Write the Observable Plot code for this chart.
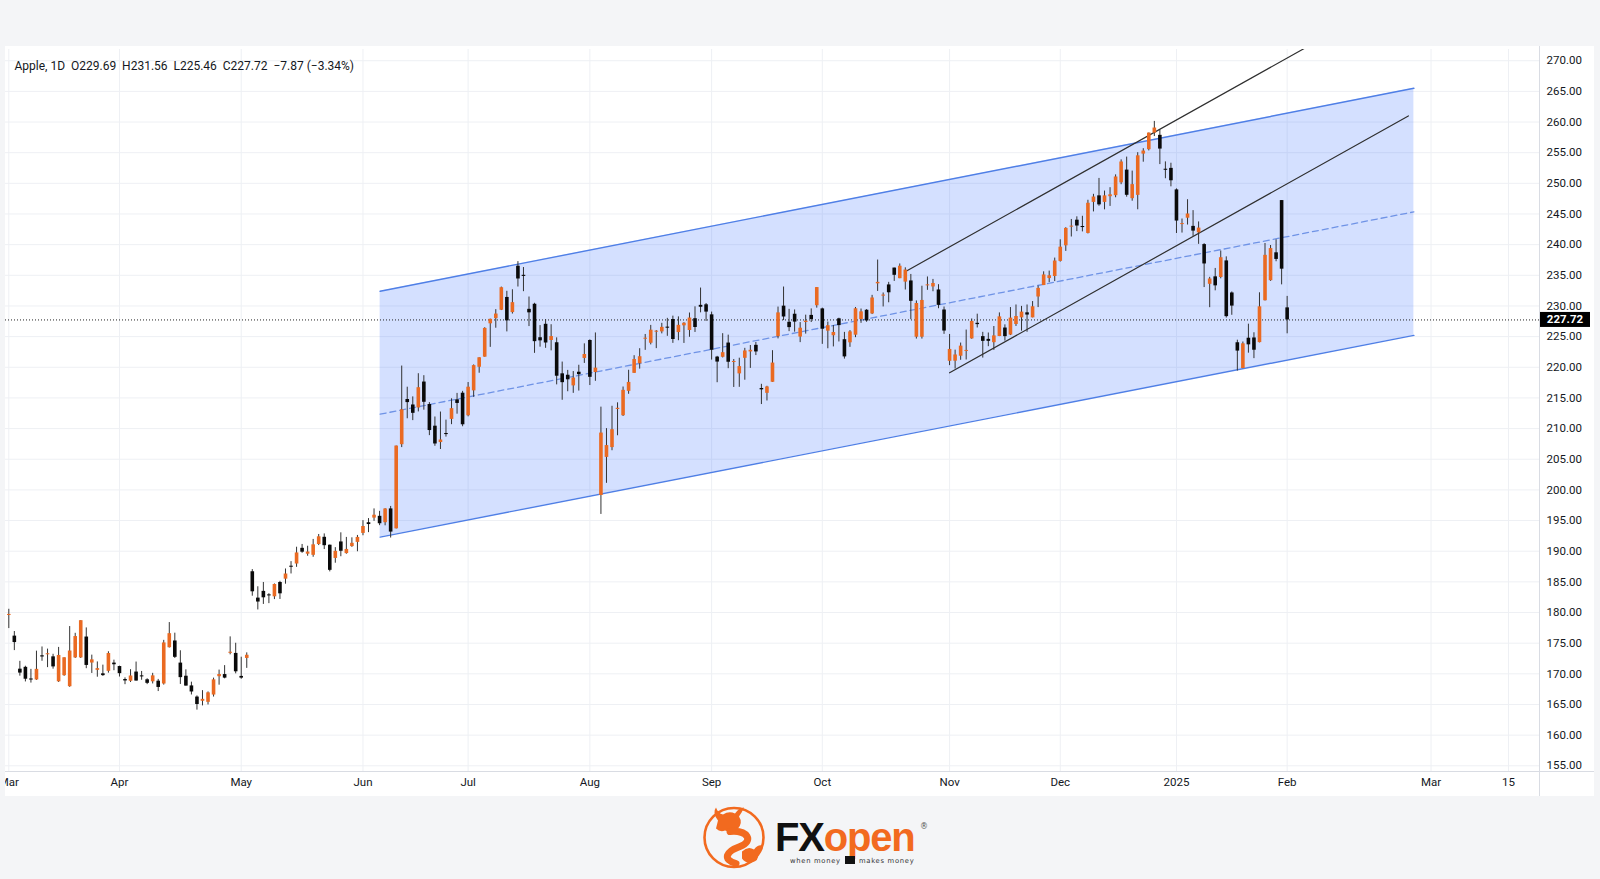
<!DOCTYPE html>
<html>
<head>
<meta charset="utf-8">
<script src="https://cdn.jsdelivr.net/npm/d3@7"></script>
<script src="https://cdn.jsdelivr.net/npm/@observablehq/plot@0.6"></script>
<style>
html,body{margin:0;padding:0;width:1600px;height:879px;overflow:hidden;background:#f4f5f7;font-family:Roboto,"DejaVu Sans",sans-serif;}
#panel{position:absolute;left:5px;top:46px;width:1589px;height:750px;background:#fff;overflow:hidden;}
#vline{position:absolute;left:1539px;top:46px;width:1px;height:750px;background:#d9dce3;}
#hline{position:absolute;left:5px;top:771px;width:1589px;height:1px;background:#d9dce3;}
#logo{position:absolute;left:0;top:796px;}
</style>
</head>
<body>
<div id="panel"></div>
<div id="vline"></div>
<div id="hline"></div>
<svg id="logo" width="1600" height="83" viewBox="0 0 1600 83">
  <g transform="translate(734,41.5)">
    <circle r="29.5" fill="none" stroke="#f26a1f" stroke-width="2.6"/>
    <path d="M-16,-17 q-6,-8 -2,-13 q2,6 7,7 q6,-4 12,-1 q4,-6 9,-6 q-2,5 -5,9 q4,6 -1,12 q-6,5 -13,2 q-5,2 -9,-2 z" fill="#f26a1f"/>
    <path d="M-4,-6 C14,-8 20,4 6,9 C-8,14 -12,22 2,26" fill="none" stroke="#f26a1f" stroke-width="7" stroke-linecap="round"/>
    <path d="M8,14 q6,-6 12,-2 q4,-5 8,-4 q-1,6 -4,9 q1,6 -6,8 q-7,1 -10,-4 z" fill="#f26a1f"/>
  </g>
  <text x="775" y="55" font-family="'Liberation Sans',Arial,sans-serif" font-weight="900" font-size="40" letter-spacing="-1.2"><tspan fill="#111">FX</tspan><tspan fill="#f26a1f">open</tspan></text>
  <text x="920" y="33" font-family="'DejaVu Sans',sans-serif" font-size="8" fill="#555">®</text>
  <text x="790" y="67" font-family="'DejaVu Sans',sans-serif" font-size="6.8" fill="#333" letter-spacing="0.7">when money</text>
  <rect x="845" y="60" width="10" height="8" fill="#111"/>
  <text x="859" y="67" font-family="'DejaVu Sans',sans-serif" font-size="6.8" fill="#333" letter-spacing="0.7">makes money</text>
</svg>
<script>
// ---------- data (Apple, daily) ----------
const dates = [
"2024-03-01","2024-03-04","2024-03-05","2024-03-06","2024-03-07","2024-03-08","2024-03-11","2024-03-12","2024-03-13","2024-03-14","2024-03-15","2024-03-18","2024-03-19","2024-03-20","2024-03-21","2024-03-22","2024-03-25","2024-03-26","2024-03-27","2024-03-28",
"2024-04-01","2024-04-02","2024-04-03","2024-04-04","2024-04-05","2024-04-08","2024-04-09","2024-04-10","2024-04-11","2024-04-12","2024-04-15","2024-04-16","2024-04-17","2024-04-18","2024-04-19","2024-04-22","2024-04-23","2024-04-24","2024-04-25","2024-04-26","2024-04-29","2024-04-30",
"2024-05-01","2024-05-02","2024-05-03","2024-05-06","2024-05-07","2024-05-08","2024-05-09","2024-05-10","2024-05-13","2024-05-14","2024-05-15","2024-05-16","2024-05-17","2024-05-20","2024-05-21","2024-05-22","2024-05-23","2024-05-24","2024-05-28","2024-05-29","2024-05-30","2024-05-31",
"2024-06-03","2024-06-04","2024-06-05","2024-06-06","2024-06-07","2024-06-10","2024-06-11","2024-06-12","2024-06-13","2024-06-14","2024-06-17","2024-06-18","2024-06-20","2024-06-21","2024-06-24","2024-06-25","2024-06-26","2024-06-27","2024-06-28",
"2024-07-01","2024-07-02","2024-07-03","2024-07-05","2024-07-08","2024-07-09","2024-07-10","2024-07-11","2024-07-12","2024-07-15","2024-07-16","2024-07-17","2024-07-18","2024-07-19","2024-07-22","2024-07-23","2024-07-24","2024-07-25","2024-07-26","2024-07-29","2024-07-30","2024-07-31",
"2024-08-01","2024-08-02","2024-08-05","2024-08-06","2024-08-07","2024-08-08","2024-08-09","2024-08-12","2024-08-13","2024-08-14","2024-08-15","2024-08-16","2024-08-19","2024-08-20","2024-08-21","2024-08-22","2024-08-23","2024-08-26","2024-08-27","2024-08-28","2024-08-29","2024-08-30",
"2024-09-03","2024-09-04","2024-09-05","2024-09-06","2024-09-09","2024-09-10","2024-09-11","2024-09-12","2024-09-13","2024-09-16","2024-09-17","2024-09-18","2024-09-19","2024-09-20","2024-09-23","2024-09-24","2024-09-25","2024-09-26","2024-09-27","2024-09-30",
"2024-10-01","2024-10-02","2024-10-03","2024-10-04","2024-10-07","2024-10-08","2024-10-09","2024-10-10","2024-10-11","2024-10-14","2024-10-15","2024-10-16","2024-10-17","2024-10-18","2024-10-21","2024-10-22","2024-10-23","2024-10-24","2024-10-25","2024-10-28","2024-10-29","2024-10-30","2024-10-31",
"2024-11-01","2024-11-04","2024-11-05","2024-11-06","2024-11-07","2024-11-08","2024-11-11","2024-11-12","2024-11-13","2024-11-14","2024-11-15","2024-11-18","2024-11-19","2024-11-20","2024-11-21","2024-11-22","2024-11-25","2024-11-26","2024-11-27","2024-11-29",
"2024-12-02","2024-12-03","2024-12-04","2024-12-05","2024-12-06","2024-12-09","2024-12-10","2024-12-11","2024-12-12","2024-12-13","2024-12-16","2024-12-17","2024-12-18","2024-12-19","2024-12-20","2024-12-23","2024-12-24","2024-12-26","2024-12-27","2024-12-30","2024-12-31",
"2025-01-02","2025-01-03","2025-01-06","2025-01-07","2025-01-08","2025-01-10","2025-01-13","2025-01-14","2025-01-15","2025-01-16","2025-01-17","2025-01-21","2025-01-22","2025-01-23","2025-01-24","2025-01-27","2025-01-28","2025-01-29","2025-01-30","2025-01-31",
"2025-02-03"];

const open = [
179.55,176.15,170.76,171.06,169.15,169.00,172.94,173.15,172.77,168.70,169.70,167.90,172.60,172.60,176.00,171.76,170.57,170.00,170.41,171.75,
171.19,169.08,168.79,170.29,169.59,169.03,168.70,168.80,168.34,174.26,175.36,171.75,169.61,168.03,166.21,165.52,165.35,166.54,169.53,169.88,173.37,173.33,
169.58,172.51,186.65,182.35,183.45,182.85,182.56,184.90,185.44,187.51,187.91,190.47,189.51,189.33,191.09,192.27,190.98,188.82,191.51,189.61,190.76,191.44,
192.90,194.64,195.40,195.69,194.65,196.90,193.65,207.37,214.74,213.85,213.37,217.59,213.93,210.39,207.72,209.15,211.50,214.69,215.77,
212.09,216.15,220.00,221.65,227.09,227.93,229.30,231.39,228.92,236.48,235.00,229.45,230.28,224.82,227.01,224.37,224.00,218.93,218.70,216.96,219.19,221.44,
224.37,219.15,199.09,205.30,206.90,213.11,212.10,216.07,219.01,220.57,224.60,223.92,225.72,225.77,226.52,227.79,225.66,226.76,226.00,227.92,230.10,230.19,
228.55,221.66,221.63,223.95,220.82,218.92,221.46,222.50,223.58,216.54,215.75,217.55,224.99,229.97,227.34,228.65,224.93,227.30,228.46,230.04,
229.52,225.89,225.14,227.90,224.50,223.99,225.23,227.78,229.30,228.70,233.61,231.60,233.43,236.18,234.45,233.89,234.08,224.90,224.90,233.32,233.10,232.61,229.34,
220.97,220.99,221.80,222.61,224.63,227.17,225.00,224.55,224.01,225.02,226.40,225.25,226.98,228.06,228.88,228.06,231.46,233.33,234.47,234.81,
237.27,239.81,242.87,243.99,242.91,241.83,246.89,247.96,246.89,247.82,247.99,250.08,252.16,247.50,248.04,254.77,255.49,258.19,257.83,252.23,252.44,
248.93,243.36,244.31,242.98,241.92,240.01,233.53,234.75,234.64,237.35,232.12,224.00,219.79,224.74,224.78,224.02,230.85,234.12,238.67,247.19,
229.69];

const high = [
180.53,176.90,172.04,171.24,170.73,173.70,174.38,174.03,173.19,174.31,172.62,177.71,176.61,178.67,177.49,173.05,171.94,171.42,173.60,172.23,
171.25,169.34,170.68,171.92,170.39,169.20,170.08,169.09,175.46,178.36,176.63,173.76,170.65,168.64,166.40,167.26,167.05,169.30,170.61,171.34,176.03,174.99,
172.71,173.42,187.00,184.20,184.90,183.07,184.66,185.09,187.10,188.30,190.65,191.10,190.81,191.92,192.73,192.82,191.00,190.58,193.00,192.25,192.18,192.57,
194.99,195.32,196.90,196.50,196.94,197.30,207.16,220.20,216.75,215.17,218.95,218.63,214.24,211.89,212.70,211.38,214.86,215.74,216.07,
217.51,220.38,221.55,226.45,227.85,229.40,233.08,232.39,232.64,237.23,236.27,231.46,230.44,226.80,227.78,226.94,224.80,220.85,219.49,219.30,220.33,223.82,
224.48,225.60,213.50,209.99,213.64,214.20,216.78,219.51,221.89,223.03,225.35,226.83,225.99,227.17,227.98,228.34,228.22,227.28,228.85,229.86,232.92,230.40,
229.00,221.78,225.48,225.24,221.27,221.48,223.09,223.55,224.04,217.22,216.90,222.71,229.82,233.09,229.45,229.35,227.29,228.50,229.52,233.00,
229.65,227.37,226.81,228.00,225.69,225.98,229.75,229.50,229.41,231.73,237.49,232.12,233.85,236.18,236.85,236.22,235.14,230.82,233.22,234.73,234.33,233.47,229.83,
225.35,222.79,223.95,226.07,227.88,228.66,225.70,225.59,226.65,228.87,226.92,229.74,230.16,229.93,230.16,230.72,233.25,235.57,235.69,237.81,
240.79,242.76,244.11,244.54,244.63,247.24,248.21,250.80,248.74,249.29,251.38,253.83,254.28,252.00,255.00,255.65,258.21,260.10,258.70,253.50,253.28,
249.10,244.18,247.33,245.55,243.71,240.16,234.67,236.12,238.96,238.01,232.29,224.42,224.12,227.03,225.63,232.15,240.19,239.86,240.79,247.19,
231.56];

const low = [
177.38,173.79,169.62,168.68,168.49,168.94,172.05,171.01,170.76,168.60,169.60,167.80,172.50,172.50,170.84,170.06,169.45,169.58,170.11,170.51,
169.48,168.23,168.58,168.82,168.95,168.24,168.35,167.11,168.16,174.21,172.50,168.27,168.00,166.55,164.08,164.77,164.92,166.21,168.15,169.18,173.10,170.00,
169.11,170.89,182.66,180.42,181.32,181.45,182.11,182.13,184.62,186.29,187.37,189.66,189.18,189.01,190.92,190.27,186.63,188.04,189.10,189.51,190.63,189.91,
192.52,193.03,194.87,194.17,194.14,192.15,193.63,206.90,211.60,211.30,212.72,213.00,208.85,207.11,206.59,208.61,210.64,212.35,210.30,
211.92,215.10,219.03,221.65,223.25,226.37,229.25,225.77,228.68,233.09,232.33,226.64,222.27,223.28,223.09,222.68,217.13,214.62,216.01,215.75,216.12,220.63,
217.02,217.71,196.00,201.07,206.39,208.83,211.97,215.60,219.01,219.70,222.76,223.65,223.04,225.45,225.05,223.90,224.33,223.89,224.89,225.68,228.88,227.48,
221.17,217.48,221.52,219.77,216.71,216.73,217.89,219.82,221.91,213.92,214.50,217.54,224.63,227.62,225.81,225.73,224.02,225.41,227.30,229.65,
223.74,223.02,223.32,224.13,221.33,223.25,224.83,227.17,227.34,228.60,232.37,229.84,230.52,234.01,234.45,232.60,227.76,224.60,224.60,232.55,232.32,229.55,225.37,
220.27,219.71,221.14,221.19,224.57,226.41,221.50,223.36,222.76,225.00,224.27,225.17,226.66,225.89,225.71,228.06,229.74,233.33,233.81,233.97,
237.16,238.90,241.25,242.13,242.08,241.75,245.34,246.26,245.68,246.24,247.65,249.78,247.74,247.09,245.69,253.45,255.29,257.63,253.06,250.75,249.43,
241.82,241.89,243.20,241.35,240.05,233.00,229.72,232.47,234.43,228.03,228.48,219.38,219.79,222.30,221.41,223.98,230.81,234.01,237.21,233.44,
225.46];

const close = [
179.66,175.10,170.12,169.12,169.00,170.73,172.75,173.23,171.13,173.00,172.62,173.72,176.08,178.67,171.37,172.28,170.85,169.71,173.31,171.48,
170.03,168.84,169.65,168.82,169.58,168.45,169.67,167.78,175.04,176.55,172.69,169.38,168.00,167.04,165.00,165.84,166.90,169.02,169.89,169.30,173.50,170.33,
169.30,173.03,183.38,181.71,182.40,182.74,184.57,183.05,186.28,187.43,189.72,189.84,189.87,191.04,192.35,190.90,186.88,189.98,189.99,190.29,191.29,192.25,
194.03,194.35,195.87,194.48,196.89,193.12,207.15,213.07,214.24,212.49,216.67,214.29,209.68,207.49,208.14,209.07,213.25,214.10,210.62,
216.75,220.27,221.55,226.34,227.82,228.68,232.98,227.57,230.54,234.40,234.82,228.88,224.18,224.31,223.96,225.01,218.54,217.49,217.96,218.24,218.80,222.08,
218.36,219.86,209.27,207.23,209.82,213.31,216.24,217.53,221.27,221.72,224.72,226.05,225.89,226.51,226.40,224.53,226.84,227.18,228.03,226.49,229.79,229.00,
222.77,220.85,222.38,220.82,220.91,220.11,222.66,222.77,222.50,216.32,216.79,220.69,228.87,228.20,226.47,227.37,226.37,227.52,227.79,233.00,
226.21,226.78,225.67,226.80,221.69,225.77,229.54,229.04,227.55,231.30,233.85,231.78,232.15,235.00,236.48,235.86,230.76,230.40,230.90,233.40,233.67,230.10,225.91,
222.91,222.01,223.45,222.72,227.48,226.96,224.23,224.23,225.12,228.22,225.00,228.02,228.28,229.00,228.52,229.87,232.87,235.06,234.93,237.33,
239.59,242.65,243.01,243.04,242.84,246.75,247.77,246.49,247.96,248.13,251.04,253.48,248.05,249.79,254.49,255.27,258.20,259.02,255.59,252.20,250.42,
243.85,243.36,245.00,242.21,242.70,236.85,234.40,233.28,237.87,228.26,229.98,222.64,223.83,223.66,222.78,229.86,238.26,239.36,237.59,236.00,
227.72];

// x-axis tick labels (month starts; future ones counted in calendar days after the last bar)
const xTickDates  = ["2024-03-01","2024-04-01","2024-05-01","2024-06-03","2024-07-01","2024-08-01","2024-09-03","2024-10-01","2024-11-01","2024-12-02","2025-01-02","2025-02-03","2025-03-01","2025-03-15"];
const xTickLabels = ["Mar","Apr","May","Jun","Jul","Aug","Sep","Oct","Nov","Dec","2025","Feb","Mar","15"];
const yTickValues = d3.range(155, 271, 5);

// drawings: regression channel and two parallel trend lines (bar index, price)
const channelBars  = [67.1, 253.9];
const channelLower = [192.3, 225.2];
const channelUpper = [232.4, 265.5];
const trendUpperBars   = [161.9, 234.0];
const trendUpperPrices = [235.55, 271.95];
const trendLowerBars   = [170.0, 252.9];
const trendLowerPrices = [219.1, 261.0];

const headerText = "Apple, 1D  O229.69  H231.56  L225.46  C227.72  \u22127.87 (\u22123.34%)";

// ---------- build ----------
const ORANGE = "#ea6a22", BLACK = "#0a0a0a";
const lastIdx = dates.length - 1;
const lastClose = close[lastIdx];
const dayMs = 86400000;
const idxOf = d => {
  const k = dates.indexOf(d);
  if (k >= 0) return k;
  return lastIdx + Math.round((new Date(d) - new Date(dates[lastIdx])) / dayMs);
};
const xTicks = xTickDates.map((d, k) => ({i: idxOf(d), label: xTickLabels[k]}));
const minBody = 0.17;
const rows = dates.map((d, i) => {
  const o = open[i], c = close[i];
  let lo = Math.min(o, c), hi = Math.max(o, c);
  if (hi - lo < minBody) { const m = (hi + lo) / 2; lo = m - minBody / 2; hi = m + minBody / 2; }
  return {i, o, h: high[i], l: low[i], c, lo, hi, up: c >= o};
});
const channel = channelBars.map((b, k) => ({b, lo: channelLower[k], up: channelUpper[k], mid: (channelLower[k] + channelUpper[k]) / 2}));
const trendU = trendUpperBars.map((b, k) => ({b, p: trendUpperPrices[k]}));
const trendL = trendLowerBars.map((b, k) => ({b, p: trendLowerPrices[k]}));

const xDomain = [-0.596, 276.6];
const yDomain = [154.07, 271.83];
const FONT = "Roboto, 'DejaVu Sans', sans-serif";

const plot = Plot.plot({
  width: 1589, height: 750,
  marginLeft: 0, marginRight: 55, marginTop: 3, marginBottom: 25,
  style: {background: "white", fontFamily: FONT, fontSize: "12px", color: "#131722"},
  x: {type: "linear", domain: xDomain, axis: null},
  y: {type: "linear", domain: yDomain, axis: null},
  marks: [
    Plot.gridY(yTickValues, {stroke: "#eef0f4", strokeOpacity: 1}),
    Plot.gridX(xTicks.map(t => t.i), {stroke: "#eef0f4", strokeOpacity: 1}),
    Plot.areaY(channel, {x: "b", y1: "lo", y2: "up", fill: "#2962ff", fillOpacity: 0.2, clip: true}),
    Plot.line(channel, {x: "b", y: "up", stroke: "#4f7fe6", strokeWidth: 1.4, clip: true}),
    Plot.line(channel, {x: "b", y: "lo", stroke: "#4f7fe6", strokeWidth: 1.4, clip: true}),
    Plot.line(channel, {x: "b", y: "mid", stroke: "#6f93e6", strokeWidth: 1.3, strokeDasharray: "6,4", clip: true}),
    Plot.ruleY([lastClose], {stroke: "#222", strokeWidth: 1, strokeDasharray: "1,2"}),
    Plot.line(trendU, {x: "b", y: "p", stroke: "#2f2f2f", strokeWidth: 1.2, clip: true}),
    Plot.line(trendL, {x: "b", y: "p", stroke: "#2f2f2f", strokeWidth: 1.2, clip: true}),
    Plot.ruleX(rows, {x: "i", y1: "l", y2: "h", stroke: "#333", strokeWidth: 1, clip: true}),
    Plot.ruleX(rows, {x: "i", y1: "lo", y2: "hi", stroke: d => d.up ? ORANGE : BLACK, strokeWidth: 3.6, clip: true}),
    Plot.axisY(yTickValues, {anchor: "right", tickSize: 0, tickPadding: 7, tickFormat: d => d.toFixed(2), fontSize: 11.5, fill: "#131722", label: null}),
    Plot.text(xTicks, {x: "i", text: "label", frameAnchor: "bottom", dy: 10.8, lineAnchor: "middle", fontSize: 11.5, fill: "#131722"}),
    Plot.text([headerText], {frameAnchor: "top-left", dx: 9, dy: 16.7, textAnchor: "start", lineAnchor: "middle", fontSize: 12, fill: "#131722"})
  ]
});
plot.style.whiteSpace = "pre";
document.getElementById("panel").appendChild(plot);

// price tag on the axis for the last close
const yScale = plot.scale("y");
const yy = yScale.apply(lastClose);
const tag = d3.select(plot).append("g").attr("text-anchor", "start");
tag.append("rect").attr("x", 1535).attr("y", yy - 7.5).attr("width", 50).attr("height", 15).attr("fill", "#000");
tag.append("text").attr("x", 1560).attr("y", yy).attr("dy", "0.35em").attr("text-anchor", "middle")
  .attr("fill", "#fff").attr("font-size", 11.5).attr("font-weight", "bold").attr("font-family", FONT)
  .text(lastClose.toFixed(2));
</script>
</body>
</html>
